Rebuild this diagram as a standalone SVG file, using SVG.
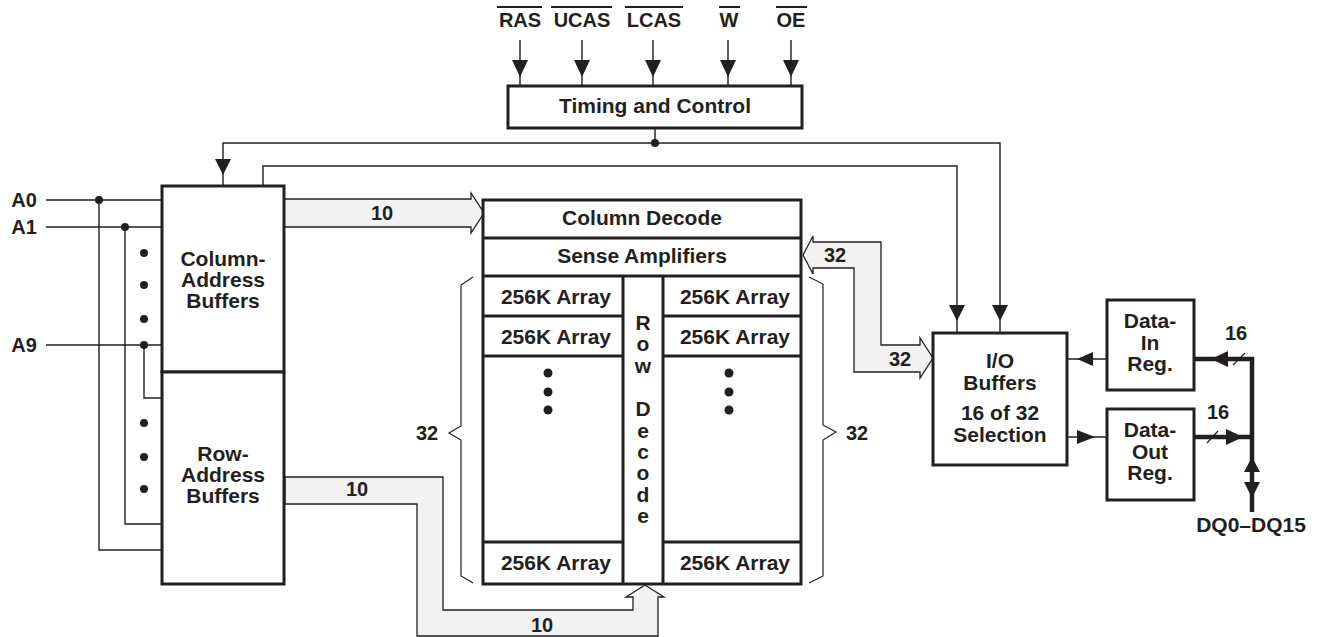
<svg xmlns="http://www.w3.org/2000/svg" width="1327" height="637" viewBox="0 0 1327 637">
<defs>
<style>
text{font-family:"Liberation Sans",Arial,Helvetica,sans-serif;font-weight:bold;font-size:21px;fill:#231f20;text-anchor:middle}
.lbl{font-size:20px}
.box{fill:#fff;stroke:#231f20;stroke-width:3}
.ln{fill:none;stroke:#231f20;stroke-width:1.4}
.thin{fill:none;stroke:#231f20;stroke-width:1.2}
.bus{fill:#f2f2f2;stroke:#231f20;stroke-width:1.3;stroke-linejoin:miter}
.thick{fill:none;stroke:#231f20;stroke-width:4.5}
.head{fill:#231f20;stroke:none}
.dot{fill:#231f20}
.ov{stroke:#231f20;stroke-width:2}
</style>
</defs>
<rect width="1327" height="637" fill="#fff"/>

<g id="connectors">
  <g id="signals">
    <line class="ov" x1="497" y1="7" x2="542" y2="7"/>
    <line class="ov" x1="551" y1="7" x2="612" y2="7"/>
    <line class="ov" x1="625" y1="7" x2="683" y2="7"/>
    <line class="ov" x1="719" y1="7" x2="740" y2="7"/>
    <line class="ov" x1="776" y1="7" x2="807" y2="7"/>
    <text class="lbl" x="520" y="27">RAS</text>
    <text class="lbl" x="582" y="27">UCAS</text>
    <text class="lbl" x="654" y="27">LCAS</text>
    <text class="lbl" x="729" y="27">W</text>
    <text class="lbl" x="791" y="27">OE</text>
    <path class="ln" d="M520,40V86M582,40V86M653,40V86M728,40V86M791,40V86"/>
    <path class="head" d="M512,60H528L520,77ZM574,60H590L582,77ZM645,60H661L653,77ZM720,60H736L728,77ZM783,60H799L791,77Z"/>
  </g>
  <path class="ln" d="M655,128V143M223,186V143H1000V333"/>
  <circle class="dot" cx="655" cy="143" r="4"/>
  <path class="head" d="M215,159H231L223,175Z"/>
  <path class="head" d="M992,305H1008L1000,321Z"/>
  <path class="ln" d="M263,186V166H957V333"/>
  <path class="head" d="M949,305H965L957,321Z"/>

  <text class="lbl" x="24" y="207">A0</text>
  <text class="lbl" x="24" y="234">A1</text>
  <text class="lbl" x="24" y="352">A9</text>
  <path class="ln" d="M46,200H162M46,227H162M46,345H162"/>
  <path class="ln" d="M99,200V550H162M125,227V524H162M144,345V398H162"/>
  <circle class="dot" cx="99" cy="200" r="4"/>
  <circle class="dot" cx="125" cy="227" r="4"/>
  <circle class="dot" cx="144" cy="345" r="4"/>
  <circle class="dot" cx="144" cy="253" r="4"/>
  <circle class="dot" cx="144" cy="285" r="4"/>
  <circle class="dot" cx="144" cy="319" r="4"/>
  <circle class="dot" cx="144" cy="423" r="4"/>
  <circle class="dot" cx="144" cy="457" r="4"/>
  <circle class="dot" cx="144" cy="489" r="4"/>

  <path class="bus" d="M284,199H471V193L484,213L471,233V227H284Z"/>
  <text class="lbl" x="382" y="220">10</text>

  <path class="bus" d="M285,477H443V610H633V597H626L645,585L664,597H658V636H417V504H285Z"/>
  <text class="lbl" x="357" y="496">10</text>
  <text class="lbl" x="542" y="632">10</text>

  <path class="bus" d="M803,255L813,236V242H881V345H920V338L933,358L920,378V372H854V268H813V274Z"/>
  <text class="lbl" x="835" y="262">32</text>
  <text class="lbl" x="900" y="366">32</text>

  <path class="thin" d="M473,277L461,285V426L449,433L461,440V576L473,583"/>
  <path class="thin" d="M809,277L823,284V425L836,432L823,440V576L809,583"/>
  <text class="lbl" x="427" y="440">32</text>
  <text class="lbl" x="857" y="440">32</text>

  <path class="ln" d="M1107,359H1067"/>
  <path class="head" d="M1093,352V366L1077,359Z"/>
  <path class="ln" d="M1067,437H1107"/>
  <path class="head" d="M1077,430V444L1095,437Z"/>
  <path class="thick" d="M1194,359H1252V512M1194,437H1252"/>
  <path class="head" d="M1228,351V367L1211,359Z"/>
  <path class="head" d="M1226,429V445L1243,437Z"/>
  <path class="head" d="M1244,472H1260L1252,457Z"/>
  <path class="head" d="M1244,482H1260L1252,498Z"/>
  <path class="thin" d="M1233,365L1245,353M1207,443L1218,431"/>
  <text class="lbl" x="1236" y="340">16</text>
  <text class="lbl" x="1218" y="419">16</text>
  <text x="1251" y="532">DQ0–DQ15</text>
</g>

<g id="timing-control">
  <rect class="box" x="508" y="86" width="294" height="42"/>
  <text x="655" y="113">Timing and Control</text>
</g>

<g id="column-address-buffers">
  <rect class="box" x="162" y="186" width="122" height="186"/>
  <text x="223" y="266">Column-</text>
  <text x="223" y="287">Address</text>
  <text x="223" y="308">Buffers</text>
</g>

<g id="row-address-buffers">
  <rect class="box" x="162" y="372" width="122" height="212"/>
  <text x="223" y="461">Row-</text>
  <text x="223" y="482">Address</text>
  <text x="223" y="503">Buffers</text>
</g>

<g id="memory-array">
  <rect class="box" x="483" y="200" width="318" height="384"/>
  <path class="box" d="M483,238H801M483,276H801M623,276V584M663,276V584M483,316H623M483,356H623M483,542H623M663,316H801M663,356H801M663,542H801"/>
  <text x="642" y="225">Column Decode</text>
  <text x="642" y="263">Sense Amplifiers</text>
  <text x="556" y="304">256K Array</text>
  <text x="556" y="344">256K Array</text>
  <text x="556" y="570">256K Array</text>
  <text x="735" y="304">256K Array</text>
  <text x="735" y="344">256K Array</text>
  <text x="735" y="570">256K Array</text>
  <circle class="dot" cx="548" cy="373" r="4.5"/>
  <circle class="dot" cx="548" cy="392" r="4.5"/>
  <circle class="dot" cx="548" cy="410" r="4.5"/>
  <circle class="dot" cx="729" cy="373" r="4.5"/>
  <circle class="dot" cx="729" cy="392" r="4.5"/>
  <circle class="dot" cx="729" cy="410" r="4.5"/>
  <g id="row-decode">
    <text x="643" y="330">R</text>
    <text x="643" y="351">o</text>
    <text x="643" y="373">w</text>
    <text x="643" y="416">D</text>
    <text x="643" y="438">e</text>
    <text x="643" y="459">c</text>
    <text x="643" y="480">o</text>
    <text x="643" y="502">d</text>
    <text x="643" y="523">e</text>
  </g>
</g>

<g id="io-buffers">
  <rect class="box" x="933" y="333" width="134" height="132"/>
  <text x="1000" y="368">I/O</text>
  <text x="1000" y="390">Buffers</text>
  <text x="1000" y="420">16 of 32</text>
  <text x="1000" y="442">Selection</text>
</g>

<g id="data-in-reg">
  <rect class="box" x="1107" y="300" width="87" height="90"/>
  <text x="1150" y="328">Data-</text>
  <text x="1150" y="350">In</text>
  <text x="1150" y="371">Reg.</text>
</g>

<g id="data-out-reg">
  <rect class="box" x="1107" y="409" width="87" height="91"/>
  <text x="1150" y="437">Data-</text>
  <text x="1150" y="459">Out</text>
  <text x="1150" y="480">Reg.</text>
</g>
</svg>
